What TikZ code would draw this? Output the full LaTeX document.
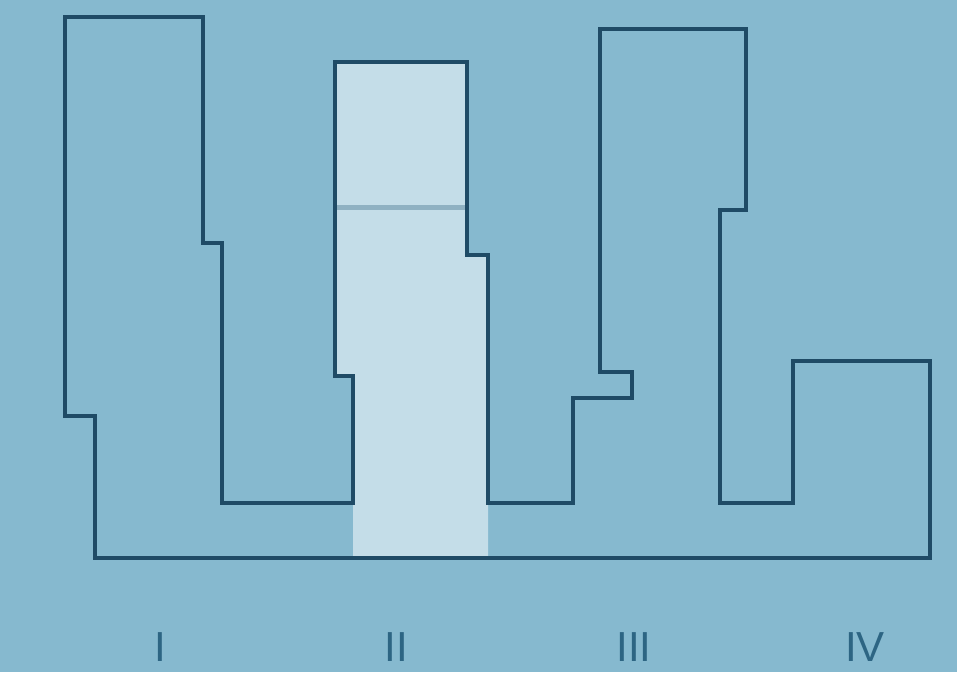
\documentclass[tikz,border=0pt]{standalone}
\usepackage{fontspec}
\setmainfont{Liberation Sans}
\definecolor{bg}{HTML}{86B9CF}
\definecolor{ink}{HTML}{1F4B66}
\definecolor{lite}{HTML}{C4DDE8}
\definecolor{bar}{HTML}{8FB1C2}
\definecolor{lab}{HTML}{2D6583}
\tikzset{
  outline/.style={draw=ink, line width=3.4pt, line join=miter},
  roman/.style={text=lab, font=\fontsize{42}{44}\selectfont, anchor=base, inner sep=0pt},
}
\begin{document}
\begin{tikzpicture}[x=1pt,y=-1pt]
\fill[bg] (0,0) rectangle (957,672);
\useasboundingbox (0,0) rectangle (957,672);
% light column II
\fill[lite] (335,62) -- (467,62) -- (467,255) -- (488,255) -- (488,558) -- (353,558) -- (353,376) -- (335,376) -- cycle;
\draw[bar, line width=5pt] (336,207) -- (466,207);
% outline
\draw[outline] (95,558) -- (95,416) -- (65,416) -- (65,17) -- (203,17) -- (203,243) -- (222,243) -- (222,503)
  -- (353,503) -- (353,376) -- (335,376) -- (335,62) -- (467,62) -- (467,255) -- (488,255) -- (488,503)
  -- (573,503) -- (573,398) -- (632,398) -- (632,372) -- (600,372) -- (600,29) -- (746,29) -- (746,210)
  -- (720,210) -- (720,503) -- (793,503) -- (793,361) -- (930,361) -- (930,558) -- cycle;
% labels
\node[roman] (l1) at (160,661) {I};
\node[roman] (l2) at (396,661) {II};
\node[roman] (l3) at (634,661) {III};
\node[roman] (l4) at (865,661) {IV};
\end{tikzpicture}
\end{document}
